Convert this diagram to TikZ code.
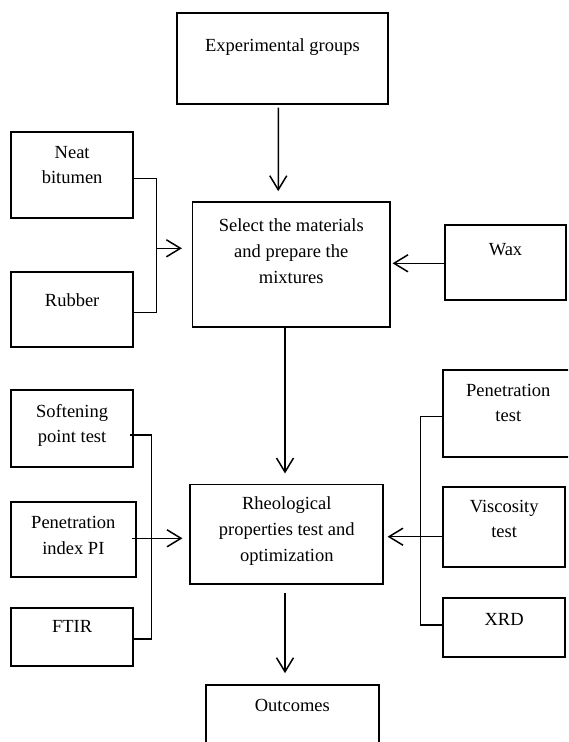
\documentclass[tikz,border=0pt]{standalone}
\usepackage{fontspec}
\setmainfont{Liberation Serif}
\usetikzlibrary{arrows.meta,calc}
\begin{document}
\begin{tikzpicture}[x=1pt,y=-1pt,
  box/.style={draw=black,line width=1.7pt,minimum width=#1,inner sep=0pt},
  txt/.style={align=center,inner sep=0pt,font=\fontsize{18.5}{25.7}\selectfont},
  conn/.style={line width=1.3pt},
  arr/.style={line width=1.5pt,-{Straight Barb[length=14pt,width=17pt,line width=1.5pt]}}]
\useasboundingbox (0,0) rectangle (568,742);
\clip (0,0) rectangle (568,742);
% boxes
\node[box=211.6pt,minimum height=91.3pt]  (exp)  at (282.5,58.35)  {};
\node[box=197.5pt,minimum height=125.6pt] (sel)  at (291.25,264.5) {};
\node[box=122.3pt,minimum height=86pt]    (neat) at (72.15,175.3)  {};
\node[box=122.3pt,minimum height=74.4pt]  (rub)  at (72.15,309.5)  {};
\node[box=121pt,minimum height=75pt]      (wax)  at (505.5,262.5)  {};
\node[box=122.3pt,minimum height=77.3pt]  (soft) at (72.15,428.65) {};
\node[box=124.7pt,minimum height=75pt]    (pi)   at (73.35,539.8)  {};
\node[box=122.3pt,minimum height=58pt]    (ftir) at (72.15,636.7)  {};
\node[box=193pt,minimum height=99.5pt]    (rheo) at (286.8,534.25) {};
\node[box=130pt,minimum height=86.7pt]    (pen)  at (508.3,413.35) {};
\node[box=121.7pt,minimum height=80pt]    (visc) at (504.15,526.7) {};
\node[box=121.7pt,minimum height=59pt]    (xrd)  at (504.15,627.2) {};
\node[box=173.3pt,minimum height=75pt]    (out)  at (292.35,722.5) {};
% texts
\node[txt] (expT)  at (282.5,46.7)   {\strut Experimental groups};
\node[txt] (selT)  at (291.25,252.5) {\strut Select the materials\\\strut and prepare the\\\strut mixtures};
\node[txt] (neatT) at (72.15,165.8)  {\strut Neat\\\strut bitumen};
\node[txt] (rubT)  at (72.15,301.7)  {\strut Rubber};
\node[txt] (waxT)  at (505.5,250.7)  {\strut Wax};
\node[txt] (softT) at (72.15,424.8)  {\strut Softening\\\strut point test};
\node[txt] (piT)   at (73.35,536.5)  {\strut Penetration\\\strut index PI};
\node[txt] (ftirT) at (72.15,627.3)  {\strut FTIR};
\node[txt] (rheoT) at (286.8,530.35) {\strut Rheological\\\strut properties test and\\\strut optimization};
\node[txt] (penT)  at (508.3,403.85) {\strut Penetration\\\strut test};
\node[txt] (viscT) at (504.15,520)   {\strut Viscosity\\\strut test};
\node[txt] (xrdT)  at (504.15,620)   {\strut XRD};
\node[txt] (outT)  at (292.35,706.7) {\strut Outcomes};
% bracket joints
\coordinate (bl1) at (156.7,248.3);
\coordinate (bl2) at (151.7,538.3);
\coordinate (br)  at (420.7,536.7);
% vertical arrows
\draw[arr] ([xshift=-4.2pt,yshift=-2.7pt]exp.south) -- ($(sel.north)+(-13,-9.7)$);
\draw[arr] ([xshift=-6.25pt]sel.south) -- ($(rheo.north)+(-1.8,-10.2)$);
\draw[arr] ([xshift=-1.8pt,yshift=-7.7pt]rheo.south) -- ($(out.north)+(-7.35,-11)$);
% left upper bracket
\draw[conn] ([yshift=-3pt]neat.east) -| (bl1) |- ([yshift=-2.8pt]rub.east);
\draw[arr] (bl1) -- ($(sel.west |- bl1)+(-9.8,0)$);
% wax
\draw[arr] ([yshift=-0.8pt]wax.west) -- ($(sel.east |- wax.west)+(1.7,0.8)$);
% left lower bracket
\draw[conn] ([xshift=-4pt,yshift=-6.35pt]soft.east) -| (bl2) |- ([xshift=-2.3pt,yshift=-2.3pt]ftir.east);
\draw[arr] ([xshift=-4.7pt,yshift=1.5pt]pi.east) -- ($(rheo.west |- bl2)+(-7,0)$);
% right bracket
\draw[conn] ([yshift=-3.35pt]pen.west) -| (br) |- ([yshift=2.2pt]xrd.west);
\draw[arr] ([yshift=-10pt]visc.west) -- ($(rheo.east |- br)+(3.4,0)$);
\end{tikzpicture}
\end{document}
